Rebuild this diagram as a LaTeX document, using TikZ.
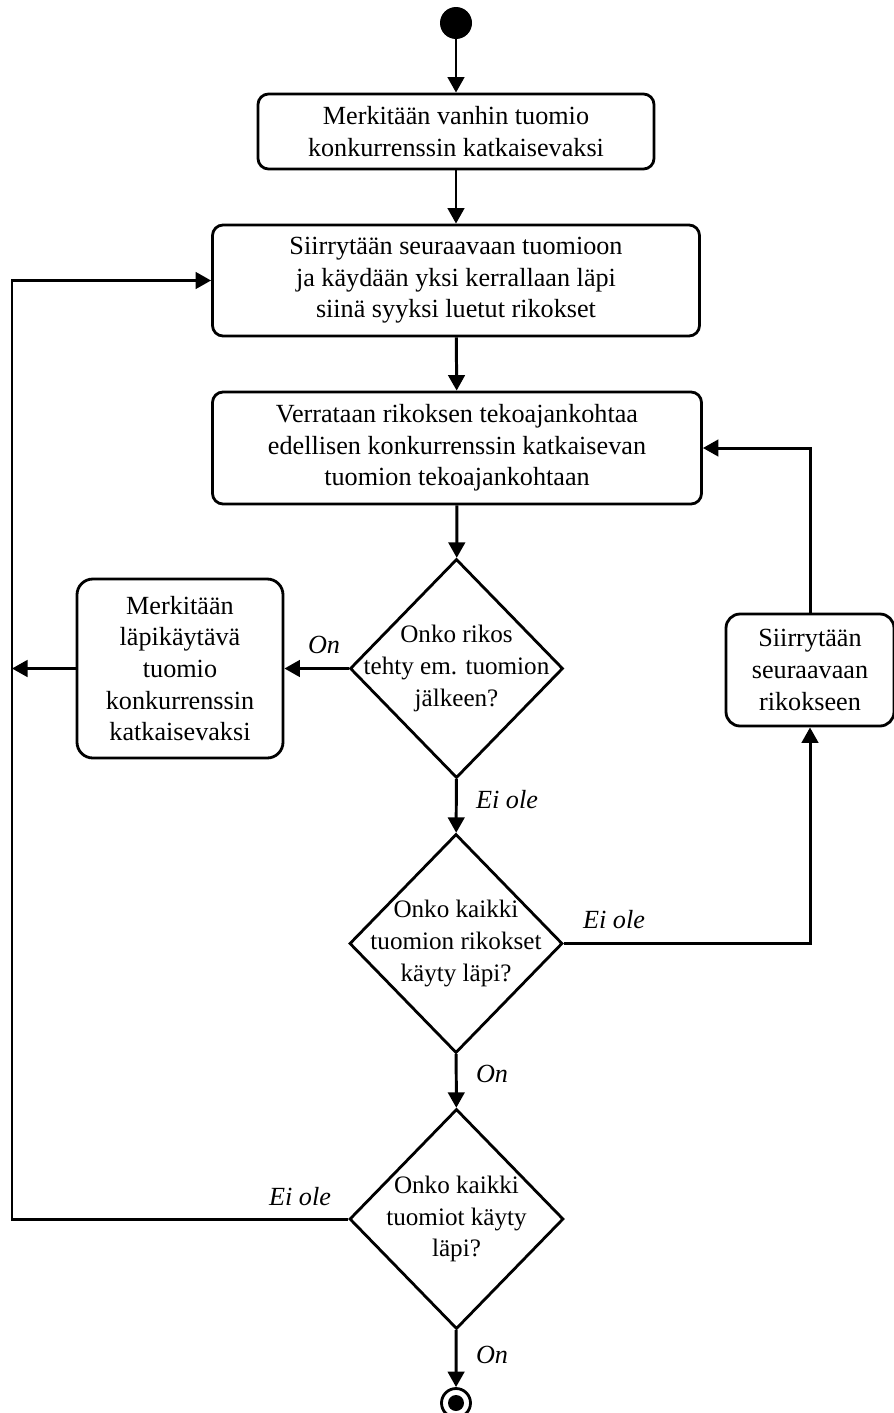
\documentclass[tikz,border=0pt]{standalone}
\usepackage{fontspec}
\setmainfont{Liberation Serif}
\usetikzlibrary{shapes,arrows.meta,positioning,calc}

\begin{document}
\begin{tikzpicture}[
    x=1cm,y=1cm,
    every node/.style = {font=\fontsize{14.9}{18}\selectfont},
    toim/.style   = {rectangle,rounded corners=6pt,draw,line width=1.6pt,
                     align=center,inner sep=2pt},
    ehto/.style   = {diamond,draw,line width=1.6pt,inner sep=0pt,
                     minimum width=4.26cm,minimum height=4.38cm},
    kysymys/.style = {align=center,font=\fontsize{14.3}{18}\selectfont},
    alku/.style   = {circle,fill=black,inner sep=0pt,minimum size=0.64cm},
    loppu/.style  = {circle,draw,line width=1.6pt,inner sep=0pt,minimum size=0.58cm,
                     path picture={\fill (path picture bounding box.center) circle (0.16cm);}},
    fl/.style     = {-{Triangle[length=3.1mm,width=3.3mm]},line width=1.7pt},
    lab/.style    = {font=\fontsize{14.9}{18}\selectfont\itshape,inner sep=1pt},
  ]
  \useasboundingbox (0,0) rectangle (17.88,-28.26);

  % ── Pääketju ────────────────────────────────────────────────────────────
  \node[alku] (start) at (9.12,-0.46) {};
  \node[toim,minimum width=7.92cm,minimum height=1.5cm] (b1) at (9.12,-2.63)
       {Merkitään vanhin tuomio\\konkurrenssin katkaisevaksi};
  \node[toim,minimum width=9.74cm,minimum height=2.22cm] (b2) at (9.12,-5.61)
       {Siirrytään seuraavaan tuomioon\\ja käydään yksi kerrallaan läpi\\siinä syyksi luetut rikokset};
  \node[toim,minimum width=9.78cm,minimum height=2.24cm] (b3) at (9.14,-8.96)
       {Verrataan rikoksen tekoajankohtaa\\edellisen konkurrenssin katkaisevan\\tuomion tekoajankohtaan};

  % ── Ehdot ───────────────────────────────────────────────────────────────
  \node[ehto,label={[kysymys]center:Onko rikos\\tehty em. tuomion\\jälkeen?}]
       (d1) at (9.13,-13.37) {};
  \node[ehto,label={[kysymys]center:Onko kaikki\\tuomion rikokset\\käyty läpi?}]
       (d2) at (9.12,-18.87) {};
  \node[ehto,minimum width=4.28cm,minimum height=4.4cm,
        label={[kysymys]center:Onko kaikki\\tuomiot käyty\\läpi?}]
       (d3) at (9.13,-24.38) {};
  \node[loppu] (loppu) at (9.12,-28.06) {};

  % ── Sivuhaarat ──────────────────────────────────────────────────────────
  \node[toim,rounded corners=9pt,minimum width=4.12cm,minimum height=3.58cm] (b4) at (3.6,-13.37)
       {Merkitään\\läpikäytävä\\tuomio\\konkurrenssin\\katkaisevaksi};
  \node[toim,rounded corners=8pt,minimum width=3.36cm,minimum height=2.24cm] (b5) at (16.2,-13.4)
       {Siirrytään\\seuraavaan\\rikokseen};
  \coordinate (vasen) at (0.24,-13.37);

  % ── Nuolet ──────────────────────────────────────────────────────────────
  \draw[fl] (start) -- (b1);
  \draw[fl] (b1) -- (b2);
  \draw[fl] (b2) -- (b3);
  \draw[fl] (b3) -- (d1);
  \draw[fl] (d1) -- (b4);
  \draw[fl] (b4) -- (vasen);
  \draw[fl] (d1) -- (d2);
  \draw[fl] (d2.east) -| (b5.south);
  \draw[fl] (b5.north) |- (b3.east);
  \draw[fl] (d2) -- (d3);
  \draw[fl] (d3) -- (loppu);
  \draw[fl] (d3.west) -- (d3.west -| vasen) |- (b2.west);

  % ── Selitteet ───────────────────────────────────────────────────────────
  \node[lab] (l1) at (6.48,-12.9) {On};
  \node[lab] (l2) at (10.14,-16.0) {Ei ole};
  \node[lab] (l3) at (12.28,-18.4) {Ei ole};
  \node[lab] (l4) at (9.84,-21.48) {On};
  \node[lab] (l5) at (6.0,-23.94) {Ei ole};
  \node[lab] (l6) at (9.84,-27.1) {On};

\end{tikzpicture}
\end{document}
